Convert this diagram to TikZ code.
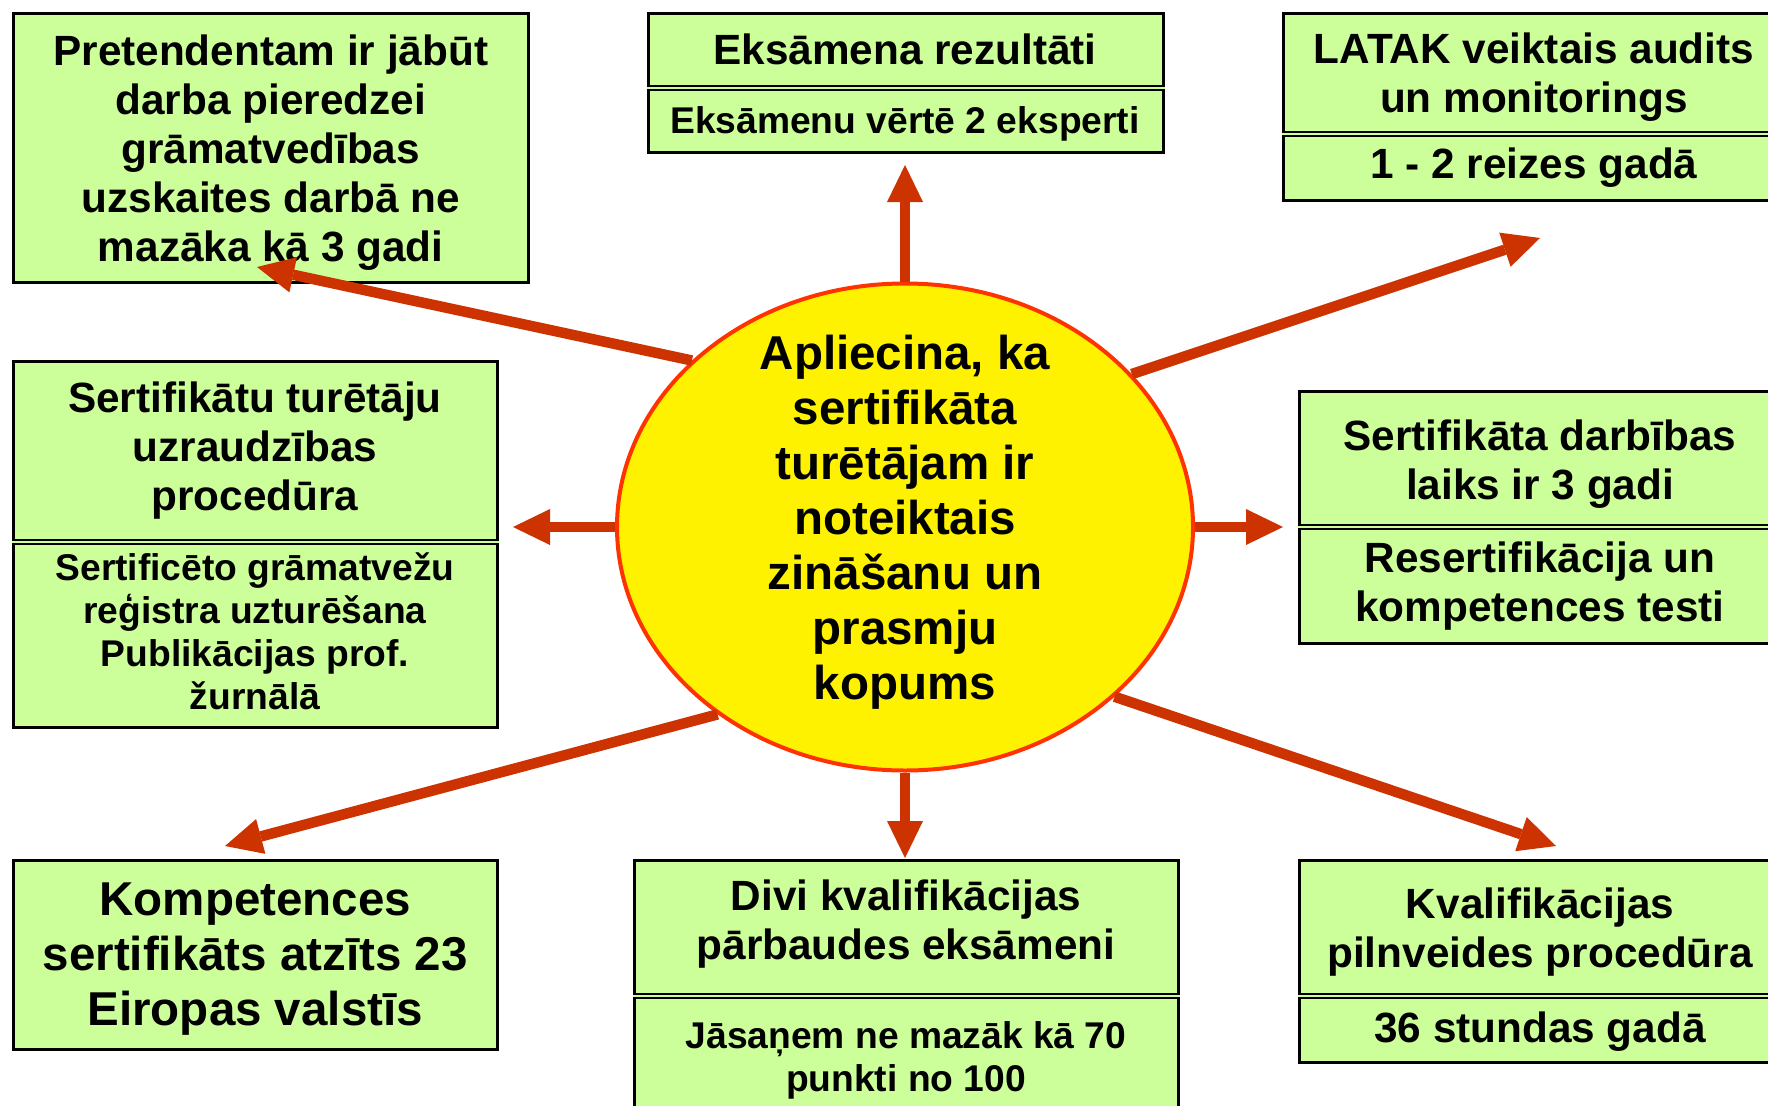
\documentclass[tikz,border=0pt]{standalone}
\usepackage{fontspec}
\setmainfont{Liberation Sans}
\usetikzlibrary{shapes.geometric,arrows.meta}
\definecolor{boxgreen}{HTML}{CCFF99}
\definecolor{arrowred}{HTML}{CC3300}
\definecolor{rimred}{HTML}{FF3300}

\begin{document}
\begin{tikzpicture}[x=1pt, y=-1pt,
    box/.style = {draw, line width=3pt, fill=boxgreen, inner sep=0pt},
    split/.style = {draw, line width=2.2pt, double=boxgreen, double distance=1.7pt},
    big/.style = {font=\bfseries\fontsize{47.5pt}{55pt}\selectfont, align=center},
    mid/.style = {font=\bfseries\fontsize{42.3pt}{49pt}\selectfont, align=center},
    small/.style = {font=\bfseries\fontsize{37.2pt}{43pt}\selectfont, align=center},
    ray/.style = {draw=arrowred, line width=10.5pt, -{Triangle[length=37pt, width=36pt, line width=0pt]}}]
  \clip (0,0) rectangle (1768,1105);
  \fill[white] (0,0) rectangle (1768,1105);

  \node[box, minimum width=514.5pt, minimum height=268.5pt] (pretend) at (270.75,147.75) {};
  \node[mid] (pretendtxt) at (270.75,152.5)
    {Pretendentam ir jābūt\\darba pieredzei\\grāmatvedības\\uzskaites darbā ne\\mazāka kā 3 gadi};

  \node[box, minimum width=515pt, minimum height=138.5pt] (exam) at (905.5,82.75) {};
  \draw[split] (exam.west |- 0,88) -- (exam.east |- 0,88);
  \node[mid] (examtop) at (905,49) {Eksāmena rezultāti};
  \node[small] (exambot) at (905,123.5) {Eksāmenu vērtē 2 eksperti};

  \node[box, minimum width=502pt, minimum height=186.5pt] (audit) at (1534,106.75) {};
  \draw[split] (audit.west |- 0,134) -- (audit.east |- 0,134);
  \node[mid] (audittop) at (1534,77.5) {LATAK veiktais audits\\un monitorings};
  \node[mid] (auditbot) at (1534,168) {1 - 2 reizes gadā};

  \node[box, minimum width=483.5pt, minimum height=366pt] (super) at (255.25,544) {};
  \draw[split] (super.west |- 0,542) -- (super.east |- 0,542);
  \node[mid] (supertop) at (255,451) {Sertifikātu turētāju\\uzraudzības\\procedūra};
  \node[small] (superbot) at (255,631) {Sertificēto grāmatvežu\\reģistra uzturēšana\\Publikācijas prof.\\žurnālā};

  \node[box, minimum width=482pt, minimum height=252pt] (term) at (1540,517) {};
  \draw[split] (term.west |- 0,527) -- (term.east |- 0,527);
  \node[mid] (termtop) at (1540,464.5) {Sertifikāta darbības\\laiks ir 3 gadi};
  \node[mid] (termbot) at (1540,586) {Resertifikācija un\\kompetences testi};

  \node[box, minimum width=483.5pt, minimum height=189pt] (compet) at (255.25,954.5) {};
  \node[big] (compettxt) at (255.25,959)
    {Kompetences\\sertifikāts atzīts 23\\Eiropas valstīs};

  \node[box, minimum width=544pt, minimum height=270pt] (exams) at (906,995) {};
  \draw[split] (exams.west |- 0,996) -- (exams.east |- 0,996);
  \node[mid] (examstop) at (906,924.5) {Divi kvalifikācijas\\pārbaudes eksāmeni};
  \node[small] (examsbot) at (906,1060.5) {Jāsaņem ne mazāk kā 70\\punkti no 100};

  \node[box, minimum width=482pt, minimum height=202pt] (cpd) at (1540,961) {};
  \draw[split] (cpd.west |- 0,996) -- (cpd.east |- 0,996);
  \node[mid] (cpdtop) at (1540,932.5) {Kvalifikācijas\\pilnveides procedūra};
  \node[mid] (cpdbot) at (1540,1031.5) {36 stundas gadā};

  \node[ellipse, draw=rimred, line width=4pt, fill=yellow, inner sep=0pt,
    minimum width=576pt, minimum height=487pt] (centre) at (905,527) {};
  \node[big] (centretxt) at (905,522.5)
    {Apliecina, ka\\sertifikāta\\turētājam ir\\noteiktais\\zināšanu un\\prasmju\\kopums};

  \coordinate (tipN) at (905,165);
  \coordinate (tipS) at (905,858);
  \coordinate (tipW) at (513,527);
  \coordinate (tipE) at (1283,527);
  \coordinate (tipNW) at (257,267);
  \coordinate (tipNE) at (1540,238);
  \coordinate (tipSW) at (225,846);
  \coordinate (tipSE) at (1556,846);

  \draw[ray] (centre.north) -- (tipN);
  \draw[ray] (centre.south) -- (tipS);
  \draw[ray] (centre.west) -- (tipW);
  \draw[ray] (centre.east) -- (tipE);
  \draw[ray] (centre.142) -- (tipNW);
  \draw[ray] (centre.34) -- (tipNE);
  \draw[ray] (centre.225) -- (tipSW);
  \draw[ray] (centre.321) -- (tipSE);
\end{tikzpicture}
\end{document}
